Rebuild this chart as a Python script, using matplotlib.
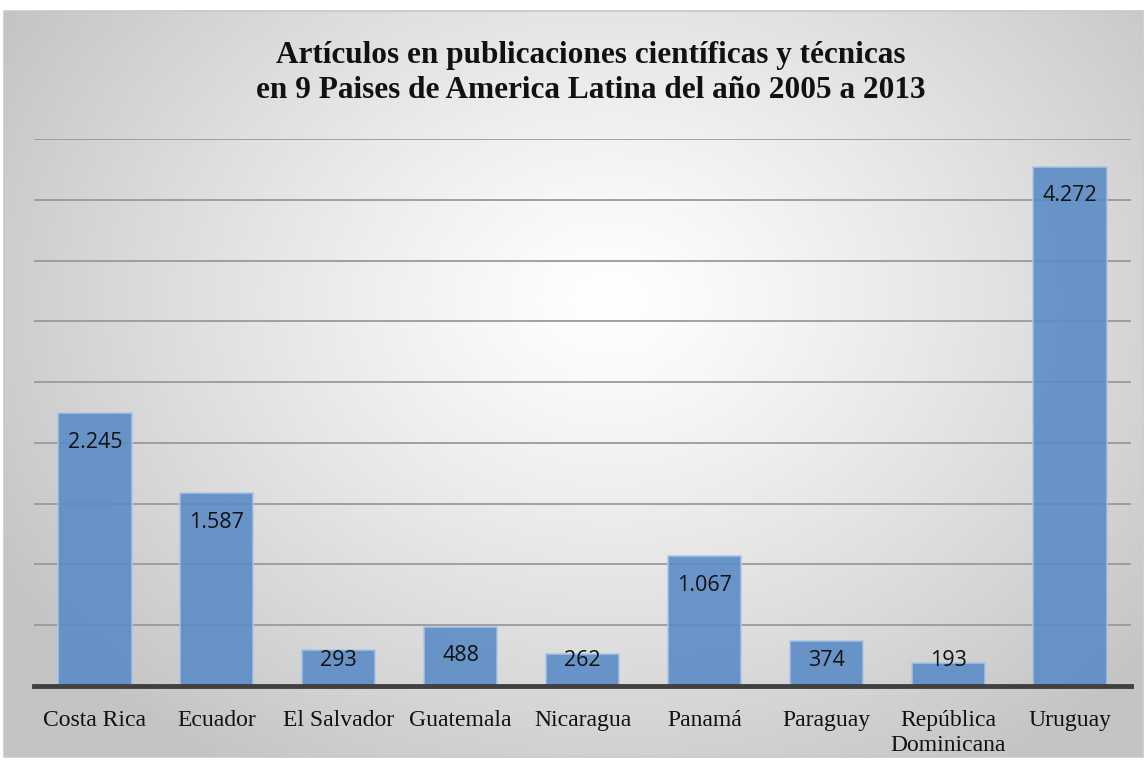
import numpy as np
import matplotlib
matplotlib.use("Agg")
import matplotlib.pyplot as plt
from matplotlib.patches import Rectangle

paises = ["Costa Rica", "Ecuador", "El Salvador", "Guatemala", "Nicaragua",
          "Panamá", "Paraguay", "República\nDominicana", "Uruguay"]
articulos = [2245, 1587, 293, 488, 262, 1067, 374, 193, 4272]
etiquetas = ["2.245", "1.587", "293", "488", "262", "1.067", "374", "193", "4.272"]

titulo = ("Artículos en publicaciones científicas y técnicas\n"
          "en 9 Paises de America Latina del año 2005 a 2013")

W, H = 1147, 763
fig = plt.figure(figsize=(W / 100, H / 100), dpi=100)
fig.patch.set_facecolor("white")

# radial gray-to-white backdrop inside the chart frame
x0, y0, x1, y1 = 4, 11, 1143, 757
bg = fig.add_axes([x0 / W, 1 - y1 / H, (x1 - x0) / W, (y1 - y0) / H], zorder=0)
xx, yy = np.meshgrid(np.linspace(x0, x1, 400), np.linspace(y0, y1, 300))
cx, cy = 610, 300
r = np.sqrt(((xx - cx) / 700) ** 2 + ((yy - cy) / 560) ** 2)
r = np.clip(r, 0, 1)
shade = 1.0 - 0.23 * r ** 1.2
img = np.dstack([shade, shade, shade])
bg.imshow(img, extent=[0, 1, 0, 1], aspect="auto", origin="upper")
bg.set_xlim(0, 1)
bg.set_ylim(0, 1)
bg.axis("off")
bg.add_patch(Rectangle((0, 0), 1, 1, transform=bg.transAxes, fill=False,
                       edgecolor="#c8c8c8", lw=1.2, clip_on=False))

# plot area
left, right, top, bottom = 34, 1131, 139, 686
ax = fig.add_axes([left / W, 1 - bottom / H, (right - left) / W, (bottom - top) / H], zorder=1)
ax.patch.set_alpha(0)

xs = np.arange(len(paises))
ax.bar(xs, articulos, width=0.6, color="#5b8cc6", alpha=0.9,
       edgecolor="#a9c4e6", linewidth=1.2, zorder=3)

ax.set_ylim(0, 4500)
ax.set_xlim(-0.5, len(paises) - 0.5)
ax.set_yticks(np.arange(500, 4501, 500))
ax.yaxis.grid(True, color="#9a9a9a", lw=1.3, zorder=1)
ax.set_axisbelow(True)
ax.tick_params(axis="y", length=0, labelleft=False)
ax.tick_params(axis="x", length=0, pad=17)
for s in ["top", "right", "left"]:
    ax.spines[s].set_visible(False)
ax.spines["bottom"].set_color("#404040")
ax.spines["bottom"].set_linewidth(3.5)
ax.spines["bottom"].set_zorder(5)

ax.set_xticks(xs)
ax.set_xticklabels(paises, fontfamily="Liberation Serif", fontsize=17,
                   color="#111111", linespacing=1.25, va="top")

for x, v, t in zip(xs, articulos, etiquetas):
    yl = max(v - 240, 206)
    ax.text(x, yl, t, ha="center", va="center", fontfamily="Open Sans",
            fontsize=15.5, color="#111111", zorder=6)

fig.text(0.515, 1 - 73 / H, titulo, ha="center", va="center",
         fontfamily="Liberation Serif", fontweight="bold", fontsize=22.5,
         linespacing=1.25, color="#111111", zorder=2)

fig.savefig("out.png", dpi=100, facecolor=fig.get_facecolor())
